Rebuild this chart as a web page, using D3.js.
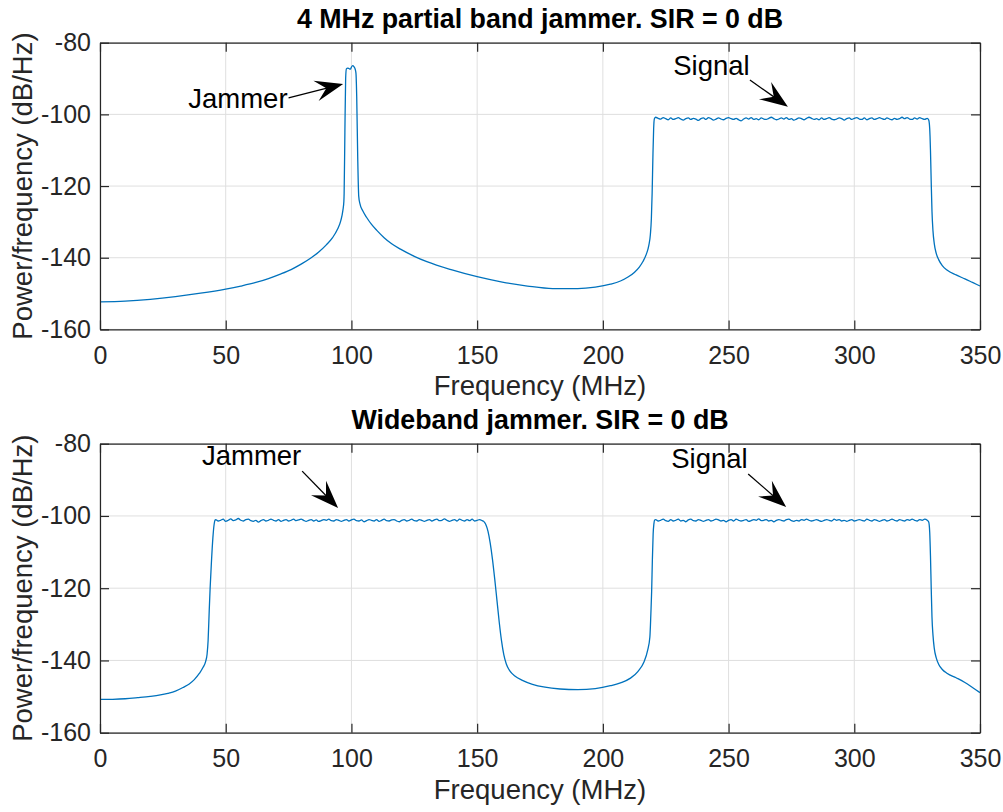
<!DOCTYPE html>
<html>
<head>
<meta charset="utf-8">
<script src="https://cdn.jsdelivr.net/npm/d3@7"></script>
<style>
  html, body { margin: 0; padding: 0; background: #fff; }
  svg { display: block; }
  text { font-family: "Liberation Sans", Arial, Helvetica, sans-serif; }
</style>
</head>
<body>
<svg id="fig" width="1003" height="812"></svg>
<script>
// ---- axis ticks and labels ----
const xTicks = [0, 50, 100, 150, 200, 250, 300, 350];
const yTicks = [-160, -140, -120, -100, -80];
const titles = ["4 MHz partial band jammer. SIR = 0 dB", "Wideband jammer. SIR = 0 dB"];
const xLabel = "Frequency (MHz)";
const yLabel = "Power/frequency (dB/Hz)";

// ---- 4 MHz partial band jammer spectrum: [MHz, dB/Hz] ----
const partialSkirtLow = [[0,-152.3],[10,-152.1],[20,-151.6],[30,-150.85],[40,-149.9],[50,-148.75],[56,-147.9],[62,-146.9],[67,-145.8],[72,-144.5],[76,-143.3],[80,-141.8],[84,-140.0],[87,-138.4],[90,-136.4],[92.5,-134.4],[94.5,-132.0],[95.8,-129.6],[96.6,-126.8],[97.0,-124.2]];
const partialJammerPeak = [[97.1,-122],[97.4,-105],[97.7,-90],[98.0,-87.3],[98.5,-87.1],[99.0,-87.2],[99.6,-87.4],[100.0,-86.8],[100.5,-86.4],[101.0,-86.7],[101.5,-87.4],[101.8,-88.5],[102.1,-95],[102.5,-112],[102.9,-122.8]];
const partialSkirtMid = [[103.4,-125.0],[104.5,-126.9],[106,-128.7],[108,-130.7],[110,-132.3],[113,-134.4],[116,-136.1],[119.5,-137.6],[125,-139.6],[130,-141.1],[140,-143.4],[150,-145.3],[160,-146.8],[170,-147.9],[180,-148.6],[190,-148.6],[197,-148.2],[203,-147.4],[207,-146.5],[210,-145.4],[212.5,-144.1],[214.5,-142.6],[216,-141.0],[217.3,-139.0],[218.3,-136.5],[218.9,-133.5],[219.3,-129],[219.6,-122],[219.9,-112],[220.2,-104],[220.5,-101.2]];
// signal band, 1 MHz bins starting at 221 MHz
const partialSignalFlat = [
  -100.8,-101.1,-101.3,-100.9,-101.2,-101.5,-101.0,-101.4,-101.2,-100.9,
  -101.3,-101.6,-101.2,-101.0,-101.4,-101.1,-101.3,-101.7,-101.2,-101.0,
  -101.4,-100.9,-101.2,-101.6,-101.3,-101.0,-101.3,-101.5,-101.1,-100.9,
  -101.2,-101.4,-101.1,-101.5,-101.8,-101.3,-101.0,-101.3,-100.9,-101.4,
  -101.2,-101.5,-101.0,-101.3,-101.4,-101.1,-100.8,-101.2,-101.5,-101.3,
  -101.0,-101.3,-100.9,-101.4,-101.2,-101.6,-101.3,-101.0,-101.2,-101.5,
  -101.1,-100.8,-101.1,-101.4,-101.2,-101.5,-101.0,-101.4,-101.2,-100.9,
  -101.3,-101.5,-101.3,-101.0,-101.2,-101.6,-101.2,-101.0,-101.4,-101.1,
  -100.9,-101.3,-101.4,-101.0,-101.5,-101.2,-101.0,-101.4,-101.2,-100.9,
  -101.2,-101.4,-101.0,-101.3,-101.5,-101.1,-101.4,-101.2,-100.8,-101.2,
  -100.9,-101.3,-101.4,-101.0,-101.3,-100.9,-101.2,-101.4,-101.1];
const partialSignalStart = 221;
const partialSkirtHigh = [[329.6,-101.6],[330.0,-104],[330.3,-110],[330.6,-119],[330.9,-127],[331.3,-132.5],[331.8,-136],[332.6,-138.8],[333.6,-140.6],[335,-142.2],[337,-143.5],[340.5,-144.8],[344,-145.9],[347,-146.9],[350,-147.9]];

// ---- wideband jammer spectrum: [MHz, dB/Hz] ----
const wideSkirtLow = [[0,-150.8],[5,-150.75],[10,-150.6],[15,-150.3],[20,-149.95],[24,-149.55],[27,-149.1],[30,-148.5],[33,-147.5],[35.5,-146.5],[37.5,-145.3],[39.5,-143.6],[41,-141.9],[42.0,-140.3],[42.6,-138.2],[43.0,-134.5],[43.4,-127],[43.8,-120],[44.3,-113],[44.9,-106],[45.4,-102.3],[45.8,-101.1]];
// jammer band, 1 MHz bins starting at 46 MHz
const wideJammerFlat = [
  -101.0,-101.4,-101.2,-100.9,-101.5,-101.2,-100.8,-101.3,-101.1,-100.7,
  -101.2,-101.4,-101.0,-100.9,-101.3,-101.5,-101.2,-101.7,-101.3,-101.0,
  -101.4,-101.2,-100.9,-101.2,-101.4,-101.0,-101.5,-101.2,-101.0,-101.4,
  -101.2,-100.9,-101.3,-101.1,-100.9,-101.2,-101.5,-101.2,-101.0,-101.4,
  -101.1,-101.5,-101.3,-101.0,-101.2,-100.9,-101.3,-101.4,-101.0,-101.2,
  -101.5,-101.2,-101.0,-101.4,-101.1,-100.9,-101.3,-101.4,-101.1,-101.6,
  -101.3,-101.0,-101.2,-101.4,-101.0,-101.5,-101.2,-100.9,-101.3,-101.4,
  -101.1,-101.0,-101.4,-101.6,-101.2,-101.0,-101.4,-101.2,-100.9,-101.3,
  -101.4,-101.0,-101.2,-101.5,-101.2,-101.0,-101.4,-101.1,-100.9,-101.3,
  -101.2,-100.8,-101.2,-101.5,-101.2,-101.0,-101.4,-100.9,-101.2,-101.4,
  -101.0,-101.3,-100.9,-101.4,-101.2,-101.0,-101.3];
const wideJammerStart = 46;
const wideSkirtMid = [[152.6,-101.5],[153.4,-102.3],[154.3,-104.2],[155.2,-107.5],[156.1,-112],[157.0,-117.5],[157.9,-123.5],[158.8,-129.5],[159.7,-134.6],[160.6,-138.4],[161.6,-141.0],[163,-142.9],[165,-144.3],[168,-145.5],[172,-146.6],[177,-147.4],[183,-147.9],[190,-148.1],[197,-147.8],[203,-147.0],[207,-146.2],[211,-144.9],[214,-143.0],[216.3,-140.5],[217.8,-137.2],[218.7,-133.5],[219.1,-127],[219.4,-121],[219.7,-112],[220.0,-105],[220.3,-102.2],[220.6,-101.1]];
// signal band, 1 MHz bins starting at 221 MHz
const wideSignalFlat = [
  -101.0,-101.4,-101.2,-100.9,-101.3,-101.5,-101.0,-101.4,-101.2,-100.9,
  -101.4,-101.2,-101.6,-101.1,-100.9,-101.3,-101.4,-101.0,-101.2,-101.5,
  -101.2,-101.0,-101.4,-101.2,-100.9,-101.1,-101.4,-101.2,-101.6,-101.2,
  -101.0,-101.4,-100.9,-101.2,-101.4,-101.2,-101.0,-101.5,-101.3,-101.0,
  -101.2,-100.8,-101.3,-101.2,-101.0,-101.4,-101.2,-101.6,-101.2,-101.0,
  -101.2,-101.4,-101.0,-100.9,-101.3,-101.5,-101.2,-101.4,-101.0,-101.2,
  -100.9,-101.2,-101.4,-101.2,-101.0,-101.3,-101.5,-101.2,-101.0,-101.2,
  -101.4,-100.9,-101.2,-101.0,-101.4,-101.2,-101.5,-101.2,-101.0,-101.4,
  -101.2,-101.0,-101.2,-101.4,-100.9,-101.2,-101.4,-101.0,-101.2,-101.5,
  -101.2,-101.0,-101.4,-101.2,-100.9,-101.2,-101.4,-101.0,-101.2,-101.4,
  -101.0,-101.2,-100.9,-101.2,-101.4,-101.0,-101.2,-100.9,-101.2];
const wideSignalStart = 221;
const wideSkirtHigh = [[329.6,-101.7],[330.0,-104.5],[330.3,-111],[330.6,-120],[330.9,-128],[331.3,-133],[331.8,-136.6],[332.6,-139.3],[333.6,-141.1],[335,-142.5],[337,-143.6],[340.5,-144.8],[344,-146.1],[347,-147.5],[350,-148.9]];

// ---- text arrows, in data units: label anchor, arrow tail, arrow tip ----
const partialNotes = [
  { text: "Jammer", anchor: "end",    at: [74.6, -98.2], from: [75.0, -95.4], to: [96.7, -91.5] },
  { text: "Signal", anchor: "middle", at: [243.2, -89.0], from: [258.5, -90.4], to: [273.6, -97.9] }
];
const wideNotes = [
  { text: "Jammer", anchor: "middle", at: [60.3, -85.9], from: [80.4, -87.6], to: [94.7, -97.8] },
  { text: "Signal", anchor: "middle", at: [242.4, -86.7], from: [257.8, -88.4], to: [272.9, -97.5] }
];

// ---- assemble traces ----
function binned(values, start) { return values.map((v, i) => [start + i, v]); }
const partialTrace = [].concat(partialSkirtLow, partialJammerPeak, partialSkirtMid,
  binned(partialSignalFlat, partialSignalStart), partialSkirtHigh);
const wideTrace = [].concat(wideSkirtLow, binned(wideJammerFlat, wideJammerStart), wideSkirtMid,
  binned(wideSignalFlat, wideSignalStart), wideSkirtHigh);

// ---- layout ----
const svg = d3.select("#fig");
svg.append("rect").attr("width", 1003).attr("height", 812).attr("fill", "#fff");

const panels = [
  { top: 42.7, bottom: 329.4, title: titles[0], trace: partialTrace, notes: partialNotes },
  { top: 443.7, bottom: 732.7, title: titles[1], trace: wideTrace, notes: wideNotes }
];
const left = 100, right = 980;
const axisColor = "#262626";
const gridColor = "#dfdfdf";
const lineColor = "#0072bd";
const tickLen = 9;
const fontStack = "'Liberation Sans', Arial, Helvetica, sans-serif";

panels.forEach(p => {
  const x = d3.scaleLinear().domain([0, 350]).range([left, right]);
  const y = d3.scaleLinear().domain([-160, -80]).range([p.bottom, p.top]);
  const g = svg.append("g");

  // grid
  g.append("g").selectAll("line").data(xTicks).join("line")
    .attr("x1", d => x(d)).attr("x2", d => x(d))
    .attr("y1", p.top).attr("y2", p.bottom)
    .attr("stroke", gridColor).attr("stroke-width", 1);
  g.append("g").selectAll("line").data(yTicks).join("line")
    .attr("x1", left).attr("x2", right)
    .attr("y1", d => y(d)).attr("y2", d => y(d))
    .attr("stroke", gridColor).attr("stroke-width", 1);

  // spectrum trace
  const line = d3.line().x(d => x(d[0])).y(d => y(d[1])).curve(d3.curveMonotoneX);
  g.append("path").datum(p.trace)
    .attr("d", line)
    .attr("fill", "none")
    .attr("stroke", lineColor)
    .attr("stroke-width", 1.3)
    .attr("stroke-linejoin", "round");

  // axes (inward ticks on all four sides)
  const fmt = d => String(d);
  const bottomAxis = d3.axisBottom(x).tickValues(xTicks).tickFormat(fmt).tickSizeInner(-tickLen).tickSizeOuter(0).tickPadding(17);
  const leftAxis = d3.axisLeft(y).tickValues(yTicks).tickFormat(fmt).tickSizeInner(-tickLen).tickSizeOuter(0).tickPadding(9);
  const topAxis = d3.axisTop(x).tickValues(xTicks).tickSizeInner(-tickLen).tickSizeOuter(0).tickFormat("");
  const rightAxis = d3.axisRight(y).tickValues(yTicks).tickSizeInner(-tickLen).tickSizeOuter(0).tickFormat("");

  const styleAxis = sel => {
    sel.selectAll("path").attr("stroke", axisColor).attr("stroke-width", 1.2);
    sel.selectAll("line").attr("stroke", axisColor).attr("stroke-width", 1.2);
    sel.selectAll("text").attr("fill", axisColor)
      .style("font-size", "25px")
      .style("font-family", fontStack);
  };
  g.append("g").attr("transform", `translate(0,${p.bottom})`).call(bottomAxis).call(styleAxis);
  g.append("g").attr("transform", `translate(${left},0)`).call(leftAxis).call(styleAxis);
  g.append("g").attr("transform", `translate(0,${p.top})`).call(topAxis).call(styleAxis);
  g.append("g").attr("transform", `translate(${right},0)`).call(rightAxis).call(styleAxis);

  // title and axis labels
  g.append("text").attr("x", (left + right) / 2).attr("y", p.top - 15)
    .attr("text-anchor", "middle").attr("font-weight", "bold")
    .attr("font-size", 26.8).attr("fill", "#000").text(p.title);
  g.append("text").attr("x", (left + right) / 2).attr("y", p.bottom + 66)
    .attr("text-anchor", "middle").attr("font-size", 27.5).attr("fill", axisColor).text(xLabel);
  g.append("text")
    .attr("transform", `translate(32,${(p.top + p.bottom) / 2}) rotate(-90)`)
    .attr("text-anchor", "middle").attr("font-size", 27.5).attr("fill", axisColor).text(yLabel);

  // annotations with arrows
  p.notes.forEach(n => {
    g.append("text").attr("x", x(n.at[0])).attr("y", y(n.at[1]))
      .attr("text-anchor", n.anchor).attr("font-size", 27.5).attr("fill", "#000").text(n.text);
    const x0 = x(n.from[0]), y0 = y(n.from[1]), x1 = x(n.to[0]), y1 = y(n.to[1]);
    const rad = Math.atan2(y1 - y0, x1 - x0);
    const L = 28, W = 10.5;
    g.append("line").attr("x1", x0).attr("y1", y0)
      .attr("x2", x1 - (L * 0.6) * Math.cos(rad))
      .attr("y2", y1 - (L * 0.6) * Math.sin(rad))
      .attr("stroke", "#000").attr("stroke-width", 1.3);
    g.append("path")
      .attr("d", `M0,0 L${-L},${-W} L${-L * 0.62},0 L${-L},${W} Z`)
      .attr("transform", `translate(${x1},${y1}) rotate(${rad * 180 / Math.PI})`)
      .attr("fill", "#000");
  });
});
</script>
</body>
</html>
